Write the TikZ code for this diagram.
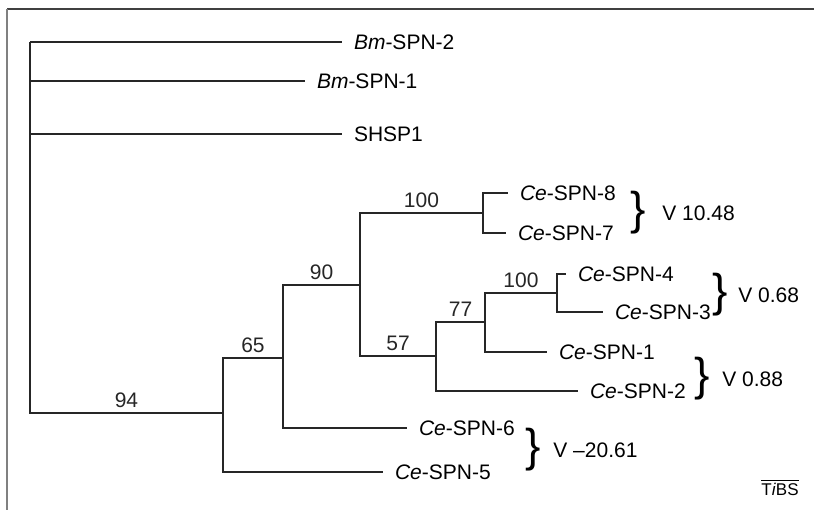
\documentclass[tikz,border=0pt]{standalone}
\usepackage{fontspec}
\setmainfont{Liberation Sans}

\begin{document}
\begin{tikzpicture}[
        x=0.5pt, y=-0.5pt,
        font=\fontsize{10.5}{12}\selectfont,
        treeline/.style={line width=0.65pt, black!85},
        leaf/.style={anchor=west, inner xsep=6pt, inner ysep=1pt, outer sep=0pt},
        branchpt/.style={inner sep=0pt, outer sep=0pt, minimum size=0pt},
        boot/.style={above, pos=0.75, inner sep=2.5pt},
        bracket/.style={font=\fontsize{23}{23}\selectfont, inner sep=0pt},
        verdict/.style={anchor=west, inner sep=0pt}
    ]
    \useasboundingbox (0,0) rectangle (814,510);
    \draw[black!75, line width=0.9pt] (7,9) -- (814,9);
    \draw[black!50, line width=1pt] (7,9) -- (7,510);

    \foreach \name/\x/\y in {
        root/30/42, a94/223/413, a65/283/358, a90/360/285,
        a100/483/213, a57/436/356, a77/485/322, b100/557/293} {
        \node[branchpt] (\name) at (\x,\y) {};
    }

    \foreach \name/\x/\y/\texto in {
        bm2/342/42/\textit{Bm}-SPN-2,
        bm1/305/81/\textit{Bm}-SPN-1,
        shsp/342/134/SHSP1,
        ce8/508/193/\textit{Ce}-SPN-8,
        ce7/506/233/\textit{Ce}-SPN-7,
        ce4/566/274/\textit{Ce}-SPN-4,
        ce3/603/312/\textit{Ce}-SPN-3,
        ce1/547/352/\textit{Ce}-SPN-1,
        ce2/578/391/\textit{Ce}-SPN-2,
        ce6/407/428/\textit{Ce}-SPN-6,
        ce5/383/472/\textit{Ce}-SPN-5} {
        \node[leaf] (\name) at (\x,\y) {\texto};
    }

    \foreach \p/\c in {
        root/bm2, root/bm1, root/shsp, a94/ce5, a65/ce6,
        a100/ce8, a100/ce7, b100/ce4, b100/ce3, a77/ce1, a57/ce2} {
        \draw[treeline] (\p) |- (\c.west);
    }

    \foreach \p/\c/\b in {
        root/a94/94, a94/a65/65, a65/a90/90, a90/a100/100,
        a90/a57/57, a57/a77/77, a77/b100/100} {
        \draw[treeline] (\p) |- node[boot] {\b} (\c);
    }

    \foreach \name/\x/\y/\vx/\texto in {
        s1/638/213/662/V 10.48,
        s2/720/295/738/V 0.68,
        s3/702/379/722/V 0.88,
        s4/533/450/553/V --20.61} {
        \node[bracket] (br\name) at (\x,\y) {\}};
        \node[verdict] (v\name) at (\vx,\y) {\texto};
    }

    \node[font=\fontsize{8.5}{10}\selectfont, inner sep=0pt] (tibs) at (780,487)
        {$\overline{\mbox{T\textit{i}BS}}$};
\end{tikzpicture}
\end{document}
